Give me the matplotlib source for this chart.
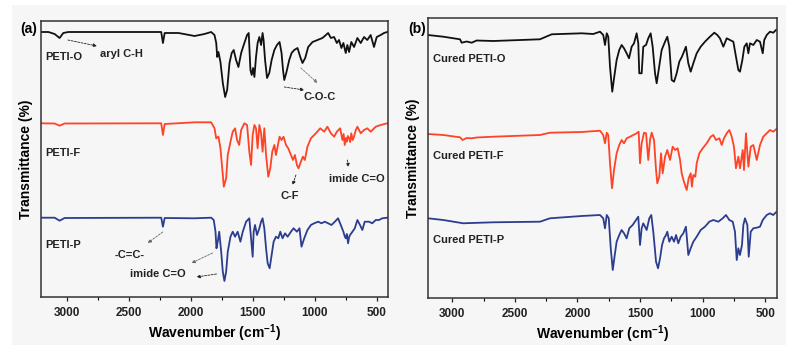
import matplotlib
matplotlib.use('Agg')
import matplotlib.pyplot as plt
from matplotlib.patches import Rectangle
from matplotlib.ticker import MultipleLocator

plt.rcParams['font.family'] = ['Liberation Sans', 'DejaVu Sans']
plt.rcParams['font.weight'] = 'bold'
plt.rcParams['mathtext.fontset'] = 'custom'
plt.rcParams['mathtext.rm'] = 'Liberation Sans:bold'
plt.rcParams['mathtext.bf'] = 'Liberation Sans:bold'

# ---- panel (a): uncured monomers, stacked transmittance (a.u.) ----
peti_o_wn = [3210, 3150, 3100, 3060, 3030, 2990, 2240, 2226, 2212, 2100, 1971, 1931, 1891, 1837, 1810,
             1796, 1788, 1778, 1762, 1743, 1724, 1708, 1689, 1671, 1655, 1636, 1617, 1595, 1569, 1547,
             1534, 1520, 1510, 1499, 1488, 1475, 1462, 1448, 1434, 1422, 1414, 1402, 1386, 1368, 1349,
             1327, 1306, 1285, 1269, 1257, 1247, 1231, 1207, 1188, 1167, 1140, 1118, 1100, 1078, 1054,
             1019, 979, 939, 911, 893, 871, 845, 823, 805, 786, 770, 751, 738, 724, 706, 684, 657, 630,
             603, 577, 550, 523, 501, 469, 442, 416]
peti_o_t = [268, 268, 266, 262, 267, 268, 268, 257, 267, 267, 264, 265, 266, 268, 265,
            257, 243, 248, 238, 217, 203, 210, 237, 247, 250, 240, 233, 247, 257, 265,
            267, 230, 225, 232, 223, 243, 257, 263, 255, 267, 260, 240, 222, 227, 240,
            250, 255, 258, 247, 230, 220, 227, 240, 247, 250, 252, 243, 237, 242, 253,
            258, 260, 262, 265, 267, 262, 263, 257, 260, 252, 257, 247, 255, 248, 258, 253, 262, 257,
            263, 260, 265, 253, 263, 265, 267, 268]

peti_f_wn = [3210, 3100, 3060, 3020, 2240, 2226, 2212, 1971, 1837, 1810, 1796, 1778, 1762, 1743, 1735,
             1716, 1703, 1681, 1663, 1644, 1628, 1611, 1595, 1569, 1547, 1529, 1515, 1502, 1488, 1475,
             1462, 1448, 1434, 1422, 1408, 1394, 1376, 1360, 1344, 1327, 1314, 1301, 1285, 1269, 1253,
             1233, 1215, 1193, 1177, 1161, 1145, 1132, 1113, 1097, 1081, 1060, 1032, 992, 957, 925,
             899, 871, 845, 823, 796, 778, 768, 759, 750, 743, 734, 724, 715, 706, 695, 684, 670, 657,
             630, 603, 577, 550, 509, 469, 416]
peti_f_t = [176.7, 176.5, 174.3, 176.5, 176.7, 165, 176, 177.7, 177.7, 171.7, 161.7, 163.3, 151.7, 125, 113.3,
            121.7, 145, 158.3, 168.3, 171.7, 160, 155, 170, 176.7, 175, 148.3, 135, 165, 175, 171.7,
            151.7, 175, 166.7, 148.3, 171.7, 145, 123.3, 131.7, 148.3, 155, 145, 153.3, 163.3, 160, 163.3,
            155, 151.7, 145, 140, 145, 135, 131.7, 138.3, 143.3, 140, 153.3, 161.7, 166.7, 171.7, 168.3,
            173.3, 166.7, 163.3, 168.3, 171.7, 160, 166, 155, 162, 158.3, 164, 161.7, 158, 166.7, 160, 163.3, 170, 173.3,
            166.7, 170, 171.7, 168.3, 173.3, 175, 176.7]

peti_p_wn = [3210, 3100, 3060, 3020, 2240, 2226, 2212, 1971, 1837, 1816, 1802, 1794, 1784, 1772, 1756,
             1743, 1730, 1716, 1703, 1681, 1663, 1644, 1623, 1601, 1582, 1555, 1529, 1515, 1502, 1494,
             1483, 1467, 1448, 1434, 1422, 1408, 1394, 1381, 1365, 1349, 1333, 1314, 1295, 1279, 1261,
             1241, 1220, 1193, 1172, 1145, 1124, 1108, 1086, 1060, 1032, 1006, 973, 947, 920, 893, 866,
             839, 813, 791, 770, 760, 751, 742, 732, 724, 716, 697, 678, 657, 636, 617, 598, 563, 537,
             509, 483, 456, 416]
peti_p_t = [82.3, 82.3, 79.3, 82, 82.3, 73.3, 82, 81.7, 82.3, 80, 68.3, 51.7, 58.3, 68.3, 48.3,
            28.3, 19, 28.3, 48.3, 63.3, 68.3, 63.3, 68.3, 58.3, 68.3, 78.3, 81.7, 61.7, 43.3, 68.3,
            75, 65, 71.7, 78.3, 81.7, 71.7, 51.7, 36.7, 31.7, 45, 58.3, 63.3, 61.7, 68.3, 61.7,
            66.7, 63.3, 68.3, 71.7, 68.3, 71.7, 53.3, 61.7, 70, 75, 76.7, 78.3, 76.7, 78.3, 76.7, 75,
            78.3, 81.7, 75, 68.3, 64, 61.7, 66, 56.7, 63, 65, 68.3, 71.7, 80, 75, 70, 78.3, 78.3, 76.7,
            80, 80, 81.7, 82.3]

# ---- panel (b): cured films ----
cured_o_wn = [3195, 3073, 2939, 2926, 2886, 2846, 2806, 2673, 2300, 2206, 1966, 1874, 1820, 1794, 1780,
              1766, 1754, 1740, 1722, 1706, 1687, 1666, 1647, 1628, 1607, 1588, 1567, 1548, 1527, 1514,
              1506, 1487, 1474, 1452, 1434, 1415, 1399, 1380, 1367, 1351, 1327, 1300, 1282, 1266, 1247,
              1228, 1207, 1186, 1165, 1149, 1133, 1114, 1095, 1074, 1047, 1015, 981, 941, 906, 882, 861,
              834, 807, 781, 754, 733, 714, 701, 682, 666, 647, 634, 621, 594, 567, 541, 519, 507, 487,
              461, 435, 413]
cured_o_t = [265, 263.3, 260.7, 257.3, 258.5, 257.3, 259.5, 259, 260.7, 265.7, 266.7, 266, 268.3, 265, 255,
             266.7, 263.3, 233.3, 208.3, 223.3, 240, 250, 255, 251.7, 246.7, 241.7, 253.3, 256.7, 266.7, 256.7,
             226.7, 226.7, 253.3, 255, 261.7, 266.7, 253.3, 226.7, 216.7, 230, 250, 258.3, 263.3, 253.3, 220,
             218.3, 226.7, 238.3, 243.3, 248.3, 253.3, 236.7, 228.3, 236.7, 246.7, 253.3, 258.3, 263.3, 267.3, 265, 261.7,
             253.3, 261.7, 260, 258.3, 243.3, 230, 228.3, 240, 253.3, 256.7, 246.7, 256.7, 255, 260, 258.3, 246.7, 260, 265,
             268.3, 267.3, 270]

cured_f_wn = [3195, 3073, 2939, 2918, 2886, 2846, 2806, 2673, 2300, 2220, 1966, 1820, 1794, 1780, 1766,
              1754, 1740, 1724, 1708, 1687, 1666, 1647, 1628, 1607, 1580, 1554, 1527, 1511, 1500, 1487,
              1468, 1452, 1434, 1420, 1407, 1388, 1372, 1362, 1346, 1332, 1319, 1300, 1282, 1260, 1239,
              1220, 1199, 1180, 1167, 1149, 1127, 1111, 1095, 1085, 1074, 1058, 1047, 1026, 999, 967, 935,
              914, 893, 866, 847, 829, 807, 786, 767, 749, 733, 714, 701, 679, 669, 653, 634, 615, 594,
              567, 541, 515, 487, 461, 435, 413]
cured_f_t = [166, 165, 162.7, 160, 162, 161.7, 162.5, 163.3, 165, 167.3, 168, 169.3, 165, 156.7, 167.3,
             165, 136.7, 111.7, 130, 146.7, 155, 160, 156.7, 161.7, 163.3, 165, 166.7, 168.3, 136.7, 156.7,
             167.3, 166.7, 140, 160, 167.3, 160, 130, 116.7, 123.3, 146.7, 126.7, 143.3, 150, 140, 153.3,
             150, 151.7, 140, 126.7, 118.3, 110, 121.7, 126.7, 113.3, 125, 123.3, 136.7, 146.7, 151.7, 156.7, 163.3,
             165, 160, 161.7, 155, 161.7, 166.7, 170, 163.3, 153.3, 131.7, 143.3, 131.7, 150, 130, 166.7, 133.3, 153.3, 155,
             140, 155, 163.3, 166.7, 170, 168.3, 170.7]

cured_p_wn = [3195, 3073, 2913, 2846, 2673, 2300, 2220, 1966, 1820, 1794, 1780, 1766, 1750, 1734, 1718,
              1702, 1687, 1666, 1647, 1628, 1607, 1586, 1559, 1532, 1514, 1500, 1487, 1474, 1447, 1426,
              1410, 1394, 1372, 1356, 1340, 1324, 1308, 1292, 1282, 1266, 1247, 1228, 1212, 1194, 1175,
              1154, 1133, 1114, 1095, 1074, 1047, 1015, 981, 946, 914, 874, 839, 813, 786, 759, 741,
              727, 714, 701, 685, 674, 661, 642, 631, 615, 594, 567, 541, 519, 487, 461, 435, 413]
cured_p_t = [81.7, 80, 76.7, 77, 77.7, 78.3, 81.7, 84, 85, 81.7, 71.7, 85, 81.7, 51.7, 30,
             45, 58.3, 65, 70, 66.7, 61.7, 71.7, 75, 80, 83.3, 55, 71.7, 76.7, 70, 81.7,
             85, 68.3, 38.3, 31.7, 41.7, 55, 61.7, 65, 68.3, 58.3, 63.3, 58.3, 65, 56.7, 63.3,
             66.7, 73.3, 45, 51.7, 58.3, 63.3, 70, 73.3, 78.3, 80, 78.3, 81.7, 85, 80, 78.3, 68.3,
             40, 51.7, 45, 55, 75, 81.7, 75, 43.3, 68.3, 71.7, 72.3, 73.3, 80, 85, 86.7, 85, 87.7]

xticks = [3000, 2500, 2000, 1500, 1000, 500]
black = '#111111'
red = '#ff4326'
blue = '#2c3d8f'
bg = '#f6f6f6'


def dashed_arrow(ax, start, end, color='#222222'):
    ax.annotate('', xy=end, xytext=start,
                arrowprops=dict(arrowstyle='-|>', color=color, lw=0.6, ls=(0, (2.5, 1.5)),
                                mutation_scale=5, shrinkA=0, shrinkB=0))


def style_axis(ax, xlim, ylim):
    ax.set_facecolor(bg)
    ax.set_xlim(*xlim)
    ax.set_ylim(*ylim)
    ax.set_yticks([])
    ax.set_xticks(xticks)
    ax.xaxis.set_minor_locator(MultipleLocator(250))
    ax.tick_params(axis='x', which='major', direction='out', length=3, width=0.9, pad=4,
                   labelsize=8.5, colors='#222222')
    ax.tick_params(axis='x', which='minor', direction='out', length=2, width=0.8)
    for s in ax.spines.values():
        s.set_linewidth(1.1)
        s.set_color('#333333')
    ax.set_xlabel(r'Wavenumber (cm$^{-1}$)', fontsize=10, fontweight='bold', labelpad=3)
    ax.set_ylabel('Transmittance (%)', fontsize=10, fontweight='bold', labelpad=6)


fig = plt.figure(figsize=(7.86, 3.45), dpi=100, facecolor='white')
fig.patches.append(Rectangle((12 / 786, 0), 1, 1 - 5 / 345, transform=fig.transFigure,
                             facecolor=bg, edgecolor='none', zorder=-10))

ax1 = fig.add_axes([41 / 786, 1 - 297 / 345, 347 / 786, 276 / 345])
ax2 = fig.add_axes([428 / 786, 1 - 298 / 345, 349 / 786, 280 / 345])

# panel a
ax1.plot(peti_o_wn, peti_o_t, color=black, lw=1.3)
ax1.plot(peti_f_wn, peti_f_t, color=red, lw=1.3)
ax1.plot(peti_p_wn, peti_p_t, color=blue, lw=1.3)
style_axis(ax1, (3210, 410), (3, 279))

lab = dict(fontsize=8, fontweight='bold', color='#222222', va='center')
ax1.text(3178, 242.5, 'PETI-O', ha='left', **lab)
ax1.text(3178, 146.5, 'PETI-F', ha='left', **lab)
ax1.text(3178, 55, 'PETI-P', ha='left', **lab)
ax1.text(2735, 246, 'aryl C-H', ha='left', **lab)
ax1.text(965, 203, 'C-O-C', ha='center', **lab)
ax1.text(1199, 104, 'C-F', ha='center', **lab)
ax1.text(664, 121, 'imide C=O', ha='center', **lab)
ax1.text(2494, 45, '-C=C-', ha='center', **lab)
ax1.text(2268, 26, 'imide C=O', ha='center', **lab)

dashed_arrow(ax1, (2993, 260), (2759, 254))
dashed_arrow(ax1, (1247, 213), (1086, 210))
dashed_arrow(ax1, (1113, 232), (979, 217), color='#777777')
dashed_arrow(ax1, (1153, 125), (1180, 115))
dashed_arrow(ax1, (738, 140), (730, 133))
dashed_arrow(ax1, (2228, 68), (2349, 57), color='#666666')
dashed_arrow(ax1, (1826, 47), (1995, 37), color='#666666')
dashed_arrow(ax1, (1794, 26), (1955, 23))

ax1.text(-0.012, 0.97, '(a)', transform=ax1.transAxes, ha='right', va='center',
         fontsize=10, fontweight='bold')

# panel b
ax2.plot(cured_o_wn, cured_o_t, color=black, lw=1.3)
ax2.plot(cured_f_wn, cured_f_t, color=red, lw=1.3)
ax2.plot(cured_p_wn, cured_p_t, color=blue, lw=1.3)
style_axis(ax2, (3195, 405), (2, 282))

ax2.text(3153, 241, 'Cured PETI-O', ha='left', **lab)
ax2.text(3153, 144, 'Cured PETI-F', ha='left', **lab)
ax2.text(3153, 60, 'Cured PETI-P', ha='left', **lab)
ax2.text(-0.005, 0.96, '(b)', transform=ax2.transAxes, ha='right', va='center',
         fontsize=10, fontweight='bold')

fig.savefig('out.png', dpi=100, facecolor=fig.get_facecolor())
